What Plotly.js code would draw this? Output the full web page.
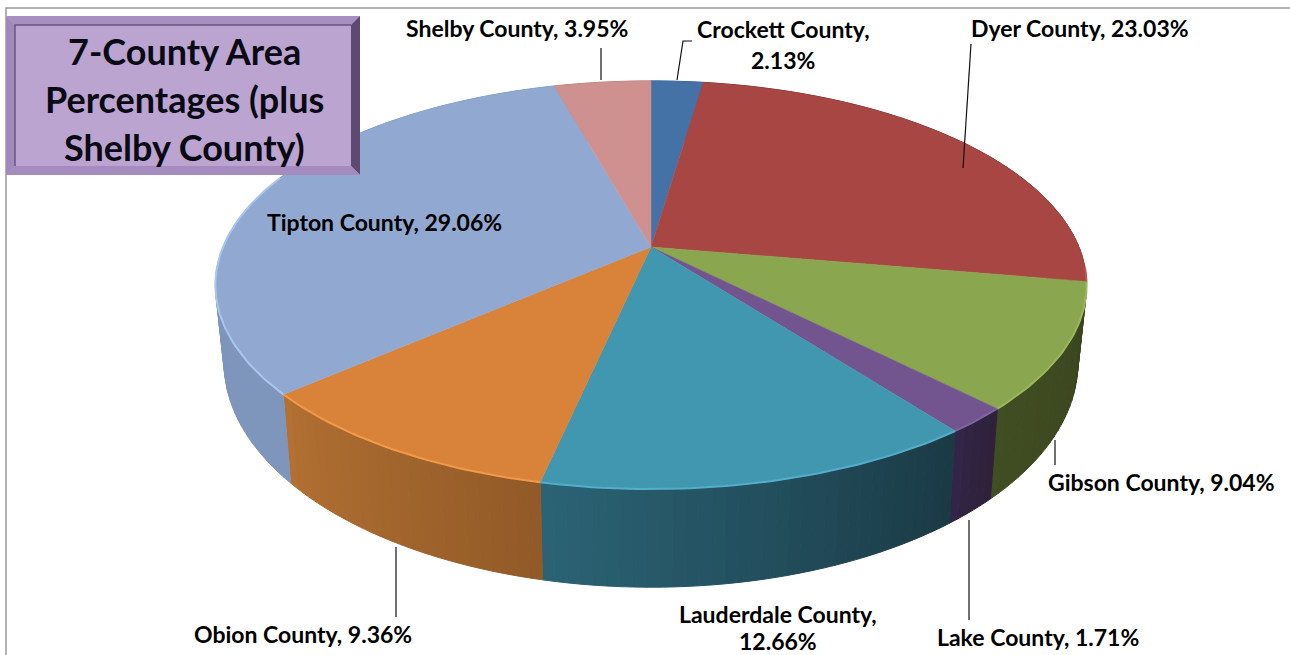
<!DOCTYPE html>
<html><head><meta charset="utf-8">
<script src="https://cdn.plot.ly/plotly-3.0.0.min.js"></script>
<style>html,body{margin:0;padding:0;background:#fff}#c{width:1290px;height:655px}</style>
</head><body><div id="c"></div>
<script>
// ---- data ----
const counties = ["Crockett County","Dyer County","Gibson County","Lake County","Lauderdale County","Obion County","Tipton County","Shelby County"];
const labelPercents = [2.13,23.03,9.04,1.71,12.66,9.36,29.06,3.95];
// drawn share of each slice (percent of the whole disc)
const sliceShares = [2.31,25.4,9.9,2.03,13.75,10.2,32.1,4.3];
const topColors = ["#4472a6","#a84644","#8aa64e","#72558f","#4297b0","#d8823a","#91a9d0","#cf9090"];
// wall shade at the slice's clockwise-first edge and at its clockwise-last edge
const wallStart = ["#3a6190","#6e2c2a","#39441d","#2e2139","#1b3a46","#925a28","#7f96bc","#b07a7a"];
const wallEnd   = ["#3a6190","#8a3a38","#414d22","#33264a","#2b6476","#b37132","#7c92b8","#b07a7a"];
const rimColors = ["#4f80b8","#bd5552","#9ab85c","#8264a0","#52aecb","#f29a4a","#aac6ee","#dda0a0"];
const titleLines = ["7-County Area","Percentages (plus","Shelby County)"];

// ---- projection of the tilted disc onto the chart's axes ----
const P = {cx:651, cy:247, A:428, B:197, a:0.186, depth:74, shrinkX:0.98, stretchY:1.1};
function rimTop(deg){
  const t = deg*Math.PI/180, X = Math.sin(t), Y = Math.cos(t), w = 1+P.a*Y;
  return [P.cx+P.A*X/w, P.cy-P.B*Y/w];
}
function rimBottom(deg){
  const p = rimTop(deg);
  return [P.cx+(p[0]-P.cx)*P.shrinkX, P.cy+P.depth+(p[1]-P.cy)*P.stretchY];
}
function mix(c1,c2,f){
  const h=c=>[1,3,5].map(i=>parseInt(c.substr(i,2),16));
  const a=h(c1),b=h(c2);
  return "rgb("+a.map((v,i)=>Math.round(v+(b[i]-v)*f)).join(",")+")";
}
const total = sliceShares.reduce((s,v)=>s+v,0);
let acc = 0;
const slices = sliceShares.map(v=>{const s=acc/total*360; acc+=v; return {s, e:acc/total*360};});

const traces = [];
// walls
slices.forEach((sl,i)=>{
  const step = 1.5, n = Math.max(1,Math.ceil((sl.e-sl.s)/step));
  for(let k=0;k<n;k++){
    const d0 = sl.s+(sl.e-sl.s)*k/n, d1 = sl.s+(sl.e-sl.s)*(k+1)/n;
    const a=rimTop(d0), b=rimTop(d1), c=rimBottom(d1), d=rimBottom(d0);
    const col = mix(wallStart[i],wallEnd[i],k/n);
    traces.push({type:"scatter",mode:"lines",x:[a[0],b[0],c[0],d[0],a[0]],y:[a[1],b[1],c[1],d[1],a[1]],
      fill:"toself",fillcolor:col,line:{color:col,width:1},hoverinfo:"skip",showlegend:false});
  }
});
// top faces
slices.forEach((sl,i)=>{
  const xs=[P.cx], ys=[P.cy];
  const n=Math.ceil((sl.e-sl.s)/1)+1;
  for(let k=0;k<=n;k++){const p=rimTop(sl.s+(sl.e-sl.s)*k/n); xs.push(p[0]); ys.push(p[1]);}
  xs.push(P.cx); ys.push(P.cy);
  traces.push({type:"scatter",mode:"lines",name:counties[i],x:xs,y:ys,fill:"toself",fillcolor:topColors[i],
    line:{color:topColors[i],width:0.5},hoverinfo:"name",showlegend:false});
});
// bevel highlight on the near rim
slices.forEach((sl,i)=>{
  const lo=Math.max(sl.s,96), hi=Math.min(sl.e,292);
  if(hi<=lo) return;
  const xs=[],ys=[],n=Math.ceil(hi-lo)+1;
  for(let k=0;k<=n;k++){const p=rimTop(lo+(hi-lo)*k/n); xs.push(p[0]); ys.push(p[1]);}
  traces.push({type:"scatter",mode:"lines",x:xs,y:ys,line:{color:rimColors[i],width:2},hoverinfo:"skip",showlegend:false});
});

// ---- labels ----
const labelFont = {family:"Lato",size:23,color:"#000"};
const labelSpots = [
  {x:783,y:[29,60],wrap:true},{x:1080,y:[28]},{x:1161,y:[482]},{x:1038,y:[637]},
  {x:778,y:[614,641],wrap:true},{x:303,y:[634]},{x:384,y:[222]},{x:517,y:[28]}
];
const annotations=[];
counties.forEach((c,i)=>{
  const pct=labelPercents[i].toFixed(2)+"%", sp=labelSpots[i];
  const lines = sp.wrap ? [c+",",pct] : [c+", "+pct];
  lines.forEach((t,j)=>annotations.push({xref:"x",yref:"y",x:sp.x,y:sp.y[j],text:"<b>"+t+"</b>",showarrow:false,
    xanchor:"center",yanchor:"middle",font:labelFont}));
});
const titleY=[51,99,147];
titleLines.forEach((t,j)=>annotations.push({xref:"x",yref:"y",x:184,y:titleY[j],text:"<b>"+t+"</b>",showarrow:false,
  xanchor:"center",yanchor:"middle",font:{family:"Lato",size:36,color:"#0a0a14"}}));

// ---- furniture ----
const poly=(pts,fill)=>({type:"path",xref:"x",yref:"y",layer:"above",path:"M"+pts.map(p=>p.join(",")).join("L")+"Z",fillcolor:fill,line:{width:0}});
const seg=(pts,color,w)=>({type:"path",xref:"x",yref:"y",layer:"above",path:"M"+pts.map(p=>p.join(",")).join("L"),line:{color:color,width:w}});
const box={x0:6,y0:16,x1:360,y1:175,i:9};
const shapes=[
  seg([[6,700],[6,8],[1300,8]],"#9a9a9a",1.5),
  poly([[box.x0,box.y0],[box.x1,box.y0],[box.x1,box.y1],[box.x0,box.y1]],"#bba4cf"),
  poly([[box.x0,box.y0],[box.x1,box.y0],[box.x1-box.i,box.y0+box.i],[box.x0+box.i,box.y0+box.i]],"#a88fc2"),
  poly([[box.x1,box.y0],[box.x1,box.y1],[box.x1-box.i,box.y1-box.i],[box.x1-box.i,box.y0+box.i]],"#5d4a72"),
  poly([[box.x0,box.y1],[box.x1,box.y1],[box.x1-box.i,box.y1-box.i],[box.x0+box.i,box.y1-box.i]],"#a68cbe"),
  poly([[box.x0,box.y0],[box.x0,box.y1],[box.x0+box.i,box.y1-box.i],[box.x0+box.i,box.y0+box.i]],"#a08abb"),
  seg([[box.x0+box.i,box.y1-box.i],[box.x0+box.i,box.y0+box.i],[box.x1-box.i,box.y0+box.i]],"#6b5680",1.5),
  seg([[677,80],[683,41],[692,41]],"#111",1.2),
  seg([[601,48],[601,80]],"#111",1.2),
  seg([[971,44],[963,168]],"#111",1.2),
  seg([[1055,440],[1055,465]],"#111",1.2),
  seg([[969,520],[969,620]],"#111",1.2),
  seg([[396,547],[396,617]],"#111",1.2)
];

Plotly.newPlot("c",traces,{
  width:1290,height:655,margin:{l:0,r:0,t:0,b:0},paper_bgcolor:"#fff",plot_bgcolor:"#fff",showlegend:false,
  xaxis:{range:[0,1290],visible:false,fixedrange:true},
  yaxis:{range:[655,0],visible:false,fixedrange:true},
  shapes:shapes,annotations:annotations
},{displayModeBar:false,staticPlot:true});
</script></body></html>
